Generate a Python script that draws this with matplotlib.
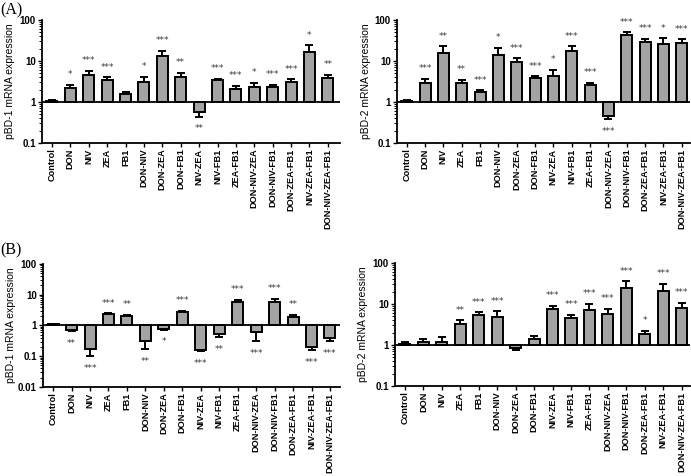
import matplotlib
matplotlib.use('Agg')
import matplotlib.pyplot as plt
import numpy as np

plt.rcParams['font.family'] = ['Liberation Sans', 'DejaVu Sans']

groups = ['Control', 'DON', 'NIV', 'ZEA', 'FB1', 'DON-NIV', 'DON-ZEA', 'DON-FB1',
          'NIV-ZEA', 'NIV-FB1', 'ZEA-FB1', 'DON-NIV-ZEA', 'DON-NIV-FB1',
          'DON-ZEA-FB1', 'NIV-ZEA-FB1', 'DON-NIV-ZEA-FB1']

# (A) pBD-1
a1_vals = [1.05, 2.15, 4.5, 3.5, 1.6, 3.05, 13.2, 4.0, 0.56, 3.45, 2.05, 2.35, 2.3, 3.0, 16.5, 3.95]
a1_sem = [0.05, 0.5, 1.2, 0.5, 0.15, 1.05, 4.3, 1.1, 0.12, 0.2, 0.4, 0.6, 0.35, 0.6, 7.5, 0.7]
a1_stars = ['', '*', '***', '***', '', '*', '***', '**', '**', '***', '***', '*', '***', '***', '*', '**']

# (A) pBD-2
a2_vals = [1.05, 2.97, 15.3, 2.92, 1.79, 13.9, 9.2, 3.8, 4.4, 17.1, 2.6, 0.45, 42, 28.4, 25.8, 27.3]
a2_sem = [0.05, 0.7, 7.3, 0.55, 0.14, 6.7, 2.5, 0.45, 1.6, 5.5, 0.32, 0.07, 8, 6.5, 9.8, 6.3]
a2_stars = ['', '***', '**', '**', '***', '*', '***', '***', '*', '***', '***', '***', '***', '***', '*', '***']

# (B) pBD-1
b1_vals = [1.08, 0.69, 0.17, 2.28, 2.0, 0.32, 0.78, 2.79, 0.157, 0.52, 5.9, 0.61, 5.9, 1.96, 0.196, 0.386]
b1_sem = [0.05, 0.05, 0.07, 0.18, 0.2, 0.15, 0.06, 0.21, 0.012, 0.1, 0.8, 0.3, 1.3, 0.24, 0.04, 0.076]
b1_stars = ['', '**', '***', '***', '**', '**', '*', '***', '***', '**', '***', '***', '***', '**', '***', '***']

# (B) pBD-2
b2_vals = [1.08, 1.18, 1.16, 3.18, 5.36, 4.79, 0.83, 1.4, 7.5, 4.44, 7.2, 5.77, 24.7, 1.88, 21.3, 8.07]
b2_sem = [0.1, 0.22, 0.37, 0.79, 0.94, 1.9, 0.07, 0.25, 1.4, 1.0, 3.1, 2.0, 11.2, 0.31, 9.6, 2.8]
b2_stars = ['', '', '', '**', '***', '***', '', '', '***', '***', '***', '***', '***', '*', '***', '***']


def panel(ax, vals, sem, stars, ylabel, ymin, xlim):
    x = np.arange(len(groups))
    vals = np.array(vals)
    sem = np.array(sem)
    ax.bar(x, vals - 1, bottom=1, width=0.6, color='#a3a3a3',
           edgecolor='black', linewidth=1.4, zorder=3)
    up = vals >= 1
    lower = np.where(up, 0, sem)
    upper = np.where(up, sem, 0)
    ax.errorbar(x, vals, yerr=[lower, upper], fmt='none', ecolor='black',
                elinewidth=1.4, capsize=3, capthick=1.4, zorder=2)
    for i in range(len(x)):
        if not stars[i]:
            continue
        if up[i]:
            ax.annotate(stars[i], (x[i], vals[i] + sem[i]), xytext=(0, 5.5),
                        textcoords='offset points', ha='center', va='baseline',
                        fontsize=6.5, color='#3a3a3a', family='DejaVu Sans')
        else:
            ax.annotate(stars[i], (x[i], vals[i] - sem[i]), xytext=(0, -10.5),
                        textcoords='offset points', ha='center', va='baseline',
                        fontsize=6.5, color='#3a3a3a', family='DejaVu Sans')
    ax.axhline(1, color='black', linewidth=1.3, zorder=4)
    ax.set_yscale('log')
    ax.set_ylim(ymin, 100)
    ax.set_xlim(*xlim)
    ax.set_xticks(x)
    ax.set_xticklabels(groups, rotation=90, fontsize=6.6, fontweight='bold')
    ticks = [t for t in [0.01, 0.1, 1, 10, 100] if t >= ymin]
    ax.set_yticks(ticks)
    ax.set_yticklabels([('%g' % t) for t in ticks], fontsize=7, fontweight='bold')
    ax.set_ylabel(ylabel, fontsize=7.5)
    ax.spines['top'].set_visible(False)
    ax.spines['right'].set_visible(False)
    ax.spines['left'].set_linewidth(1.3)
    ax.spines['bottom'].set_linewidth(1.3)
    ax.tick_params(axis='both', which='major', length=3, width=1, pad=1.5)
    ax.tick_params(axis='x', pad=1)
    ax.tick_params(axis='y', which='minor', length=2, width=0.7)


fig = plt.figure(figsize=(6.91, 4.76), dpi=100)
ax1 = fig.add_axes([0.0608, 0.6996, 0.431, 0.2584])
ax2 = fig.add_axes([0.5745, 0.6996, 0.424, 0.2584])
ax3 = fig.add_axes([0.0622, 0.187, 0.430, 0.2584])
ax4 = fig.add_axes([0.5716, 0.189, 0.427, 0.2584])

panel(ax1, a1_vals, a1_sem, a1_stars, 'pBD-1 mRNA expression', 0.1, (-0.54, 15.65))
panel(ax2, a2_vals, a2_sem, a2_stars, 'pBD-2 mRNA expression', 0.1, (-0.53, 15.45))
panel(ax3, b1_vals, b1_sem, b1_stars, 'pBD-1 mRNA expression', 0.01, (-0.55, 15.55))
panel(ax4, b2_vals, b2_sem, b2_stars, 'pBD-2 mRNA expression', 0.1, (-0.54, 15.45))

for ax in (ax1, ax2, ax3, ax4):
    ax.yaxis.set_label_coords(-0.09, 0.5)

fig.text(0.0, 0.995, '(A)', family='Liberation Serif', fontsize=11.5, va='top', ha='left')
fig.text(0.0, 0.49, '(B)', family='Liberation Serif', fontsize=11.5, va='top', ha='left')

fig.savefig('out.png', dpi=100)
